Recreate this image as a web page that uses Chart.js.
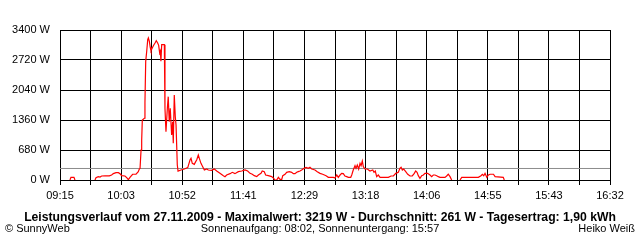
<!DOCTYPE html>
<html>
<head>
<meta charset="utf-8">
<title>Leistungsverlauf</title>
<script src="https://cdn.jsdelivr.net/npm/chart.js@4"></script>
<style>
    html, body { margin: 0; padding: 0; background: #fff; }
    #wrap { position: relative; width: 640px; height: 240px; }
</style>
</head>
<body>
<div id="wrap"><canvas id="powerChart"></canvas></div>
<script>
// Time axis labels (every second grid line)
const tickLabels = ['09:15', '10:03', '10:52', '11:41', '12:29', '13:18', '14:06', '14:55', '15:43', '16:32'];

// Power axis
const yMax = 3400;
const yStep = 680;

// Average power (grey line)
const avgWatt = 261;

// Measured power: time in minutes since midnight, value in W (null = no data)
const times = [
    562.9, 563.7, 566.1, 566.9, 575.0,
    582.8, 583.6, 585.4, 586.8, 588.1, 590.8, 594.2, 596.0, 597.4, 599.5,
    601.4, 602.7, 604.0, 606.6, 608.0, 609.3, 610.6, 612.7, 615.4, 617.2,
    618.0, 618.6, 619.4, 619.9, 620.4, 622.0, 622.5, 623.1, 623.9, 624.7,
    625.2, 626.0, 626.7, 627.3, 628.3, 629.4, 630.5, 631.5, 632.6, 633.4,
    634.2, 634.7, 635.2, 635.8, 637.9, 638.4, 639.2, 640.3, 641.0, 641.8,
    642.6, 643.7, 644.5, 645.0, 645.8, 646.6, 647.2, 648.2, 648.8, 651.1,
    653.8, 656.5, 658.3, 659.1, 660.1, 661.7, 662.8, 663.6, 664.9, 665.7,
    667.0, 668.4, 669.7, 671.6, 672.8, 675.5, 677.6, 679.5, 682.1, 684.8,
    686.1, 687.4, 690.1, 691.9, 694.0, 696.7, 699.4, 702.0, 704.1, 706.0,
    707.8, 709.4, 711.3, 712.6, 714.7, 715.7, 717.3, 718.4, 720.5, 723.2,
    724.8, 725.8, 727.2, 728.5, 729.8, 731.2, 732.0, 733.8, 735.1, 737.2,
    739.1, 740.4, 741.7, 743.1, 744.3, 745.7, 747.0, 748.9, 750.5, 752.3,
    753.6, 755.0, 757.6, 759.4, 761.6, 763.7, 766.4, 768.2, 772.2, 773.5,
    774.9, 776.1, 777.5, 778.8, 780.1, 781.4, 782.8, 784.1, 786.0, 786.8,
    788.0, 789.4, 790.2, 791.2, 792.3, 793.4, 794.2, 795.2, 796.0, 797.3,
    799.2, 801.3, 803.5, 804.5, 805.5, 806.6, 807.9, 809.3, 813.2, 815.9,
    818.0, 819.9, 821.8, 823.8, 825.1, 826.0, 827.0, 828.1, 829.7, 831.3,
    833.1, 834.9, 836.5, 837.6, 838.7, 839.7, 841.0, 842.4, 843.7, 845.0,
    847.1, 849.0, 850.3, 851.6, 852.9, 854.3, 855.6, 856.9, 860.9, 862.2,
    863.5, 864.9, 866.2, 869.0,
    872.8, 874.2, 887.4, 889.5, 890.6, 891.7,
    892.7, 894.1, 895.4, 896.7, 899.4, 900.7, 907.2, 908.0
];
const watts = [
    0, 61, 61, 0, null,
    0, 53, 76, 68, 91, 95, 95, 113, 144, 166,
    166, 140, 98, 91, 53, 8, 60, 130, 135, 189,
    249, 264, 680, 900, 1360, 1400, 1750, 2690, 2917, 3181,
    3219, 3143, 3008, 2931, 2992, 3053, 3105, 3158, 3105, 3053,
    2879, 2920, 2690, 3068, 3068, 1625, 1096, 1625, 1889, 1322,
    1625, 1020, 1322, 831, 1927, 1435, 1247, 340, 200, 227,
    249, 280, 453, 491, 378, 355, 416, 453, 567, 491,
    378, 302, 227, 249, 227, 219, 249, 204, 151, 98,
    76, 113, 144, 174, 144, 189, 204, 227, 204, 151,
    130, 98, 76, 113, 151, 204, 189, 113, 98, 76,
    38, 0, 0, 60, 15, 15, 98, 130, 174, 189,
    174, 144, 144, 174, 189, 204, 227, 264, 287, 264,
    287, 249, 227, 189, 151, 130, 98, 60, 60, 45,
    113, 60, 113, 151, 144, 91, 76, 60, 60, 113,
    227, 325, 264, 340, 249, 378, 325, 431, 302, 249,
    249, 204, 227, 174, 204, 76, 113, 60, 60, 60,
    91, 91, 151, 174, 264, 287, 227, 249, 189, 130,
    91, 91, 151, 204, 174, 98, 38, 98, 113, 151,
    151, 113, 76, 113, 113, 98, 76, 60, 60, 91,
    130, 76, 0, null,
    0, 60, 60, 98, 130, 98,
    151, 60, 113, 130, 130, 76, 60, 0
];

const titleText = 'Leistungsverlauf vom 27.11.2009 - Maximalwert: 3219 W - Durchschnitt: 261 W - Tagesertrag: 1,90 kWh';
const footerLeft = '\u00A9 SunnyWeb';
const footerCenter = 'Sonnenaufgang: 08:02, Sonnenuntergang: 15:57';
const footerRight = 'Heiko Weiß';

const toMinutes = s => {
    const [h, m] = s.split(':').map(Number);
    return h * 60 + m;
};
const tStart = toMinutes(tickLabels[0]);
const tEnd = toMinutes(tickLabels[tickLabels.length - 1]);
const gridCount = (tickLabels.length - 1) * 2;

const FONT = '"Liberation Sans", Arial, sans-serif';

// Title and footer lines below the plot
const textPlugin = {
    id: 'bottomText',
    afterDraw(chart) {
        const ctx = chart.ctx;
        const w = chart.width;
        ctx.save();
        ctx.fillStyle = '#000';
        ctx.textBaseline = 'alphabetic';
        ctx.font = 'bold 12.2px ' + FONT;
        ctx.textAlign = 'center';
        ctx.fillText(titleText, w / 2, 221);
        ctx.font = '11px ' + FONT;
        ctx.textAlign = 'left';
        ctx.fillText(footerLeft, 5, 232);
        ctx.textAlign = 'center';
        ctx.fillText(footerCenter, w / 2, 232);
        ctx.textAlign = 'right';
        ctx.fillText(footerRight, w - 5, 232);
        ctx.restore();
    }
};

const ctx = document.getElementById('powerChart').getContext('2d');
new Chart(ctx, {
    type: 'line',
    data: {
        datasets: [{
            label: 'Leistung',
            data: times.map((t, i) => ({ x: t, y: watts[i] })),
            borderColor: '#ff0000',
            borderWidth: 1.2,
            pointRadius: 0,
            tension: 0,
            spanGaps: false
        }, {
            label: 'Durchschnitt',
            data: [{ x: tStart, y: avgWatt }, { x: tEnd, y: avgWatt }],
            borderColor: '#8c8c8c',
            borderWidth: 1,
            pointRadius: 0
        }]
    },
    options: {
        responsive: true,
        maintainAspectRatio: false,
        animation: false,
        layout: { padding: { top: 30, right: 30, left: 0, bottom: 0 } },
        scales: {
            x: {
                type: 'linear',
                min: tStart,
                max: tEnd,
                afterBuildTicks: axis => {
                    axis.ticks = Array.from({ length: gridCount + 1 },
                        (_, i) => ({ value: tStart + i * (tEnd - tStart) / gridCount }));
                },
                afterFit: axis => { axis.height = 60; },
                grid: { color: '#000', lineWidth: 1, tickLength: 5, drawTicks: true },
                border: { color: '#000' },
                ticks: {
                    autoSkip: false,
                    maxRotation: 0,
                    padding: 4,
                    color: '#000',
                    font: { family: FONT, size: 11 },
                    callback: (v, i) => (i % 2 === 0 ? tickLabels[i / 2] : '')
                }
            },
            y: {
                min: 0,
                max: yMax,
                afterFit: axis => { axis.width = 60; },
                grid: { color: '#000', lineWidth: 1, drawTicks: false },
                border: { color: '#000' },
                ticks: {
                    stepSize: yStep,
                    padding: 10,
                    color: '#000',
                    font: { family: FONT, size: 11 },
                    callback: v => v + ' W'
                }
            }
        },
        plugins: {
            legend: { display: false },
            tooltip: { enabled: false }
        }
    },
    plugins: [textPlugin]
});
</script>
</body>
</html>
